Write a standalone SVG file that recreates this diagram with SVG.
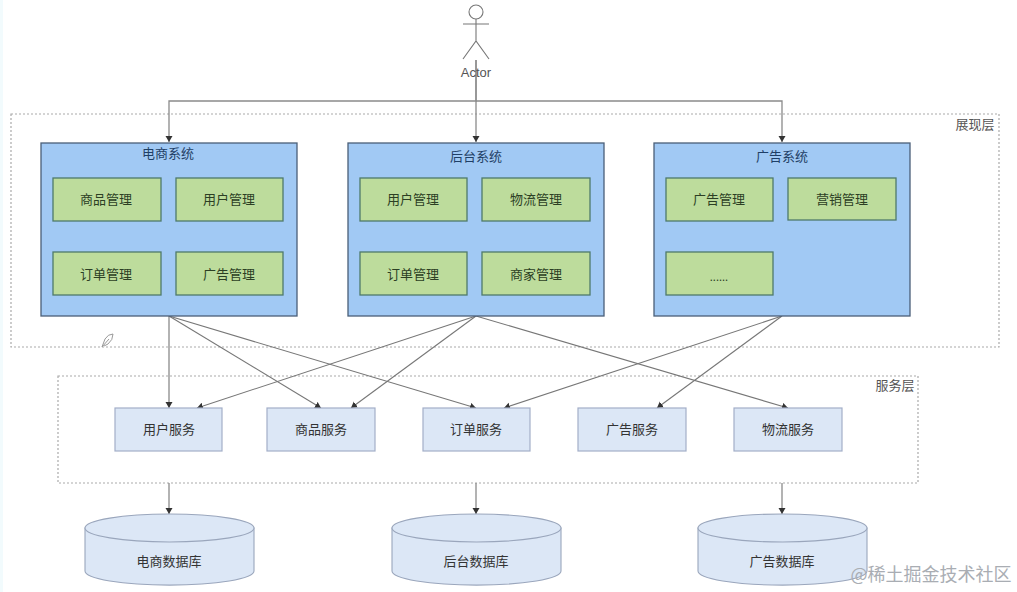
<svg xmlns="http://www.w3.org/2000/svg" width="1017" height="592" viewBox="0 0 1017 592">
<style>
text{font-family:"Noto Sans CJK SC","Liberation Sans",sans-serif;text-anchor:middle;font-size:13px;fill:#333}
.sys{fill:#a1c9f4;stroke:#4a5f78;stroke-width:1.3}
.sys-t{fill:#1f3f66}
.mod{fill:#bddc9c;stroke:#4f7a6a;stroke-width:1.3}
.mod-t{fill:#2c3f24}
.svc{fill:#dce7f6;stroke:#a3afc8;stroke-width:1.2}
.db{fill:#dce7f6;stroke:#9aa6bc;stroke-width:1.1}
.zone{fill:none;stroke:#aaa;stroke-width:1.2;stroke-dasharray:2 2}
.c{fill:none;stroke:#8a8a8a;stroke-width:1.3;marker-end:url(#a)}
.c2{fill:none;stroke:#777;stroke-width:1.1;marker-end:url(#a)}
.actor{fill:none;stroke:#777;stroke-width:1.1}
</style>
<defs><marker id="a" markerUnits="userSpaceOnUse" markerWidth="8" markerHeight="8" refX="6" refY="3.5" orient="auto"><path d="M0 0L6 3.5L0 7Z" fill="#333"/></marker></defs>
<rect width="1017" height="592" fill="#fff"/>
<rect x="0" y="0" width="3" height="592" fill="#f2fbfd"/>
<g id="zone-presentation"><rect class="zone" x="11" y="114" width="988" height="233"/><text x="975" y="129" style="fill:#555">展现层</text></g>
<g id="zone-service"><rect class="zone" x="58" y="376" width="860" height="107"/><text x="895" y="390" style="fill:#555">服务层</text></g>
<path id="pencil" d="M102 347L105 339Q108 334 113 334Q113 340 108 344L104 346M102 347L109 339" fill="none" stroke="#999" stroke-width="1"/>
<g id="connectors">
<path class="c" d="M476 60V101H169V142"/>
<path class="c" d="M476 60V142"/>
<path class="c" d="M476 101H782V142"/>
<path class="c" d="M169 316V408"/>
<path class="c2" d="M169 316L321 408"/>
<path class="c2" d="M169 316L476 408"/>
<path class="c2" d="M476 316L197 408"/>
<path class="c2" d="M476 316L351 408"/>
<path class="c2" d="M476 316L788 408"/>
<path class="c2" d="M782 316L504 408"/>
<path class="c2" d="M782 316L657 408"/>
<path class="c" d="M169 483V514"/>
<path class="c" d="M476 483V514"/>
<path class="c" d="M782 483V514"/>
</g>
<g id="actor"><circle class="actor" cx="476" cy="12" r="7"/><path class="actor" d="M476 19V41M463 24H489M463 59L476 41L489 59"/><text x="476" y="77" style="fill:#555;font-family:'Liberation Sans',sans-serif">Actor</text></g>
<g id="sys-shop"><rect class="sys" x="41" y="143" width="256" height="173"/><text class="sys-t" x="168" y="158">电商系统</text></g>
<g id="mod-1"><rect class="mod" x="53" y="178" width="108" height="43"/><text class="mod-t" x="106" y="204">商品管理</text></g>
<g id="mod-2"><rect class="mod" x="176" y="178" width="107" height="43"/><text class="mod-t" x="229" y="204">用户管理</text></g>
<g id="mod-3"><rect class="mod" x="53" y="252" width="108" height="43"/><text class="mod-t" x="106" y="279">订单管理</text></g>
<g id="mod-4"><rect class="mod" x="176" y="252" width="107" height="43"/><text class="mod-t" x="229" y="279">广告管理</text></g>
<g id="sys-admin"><rect class="sys" x="348" y="143" width="256" height="173"/><text class="sys-t" x="476" y="161">后台系统</text></g>
<g id="mod-5"><rect class="mod" x="360" y="178" width="107" height="43"/><text class="mod-t" x="413" y="204">用户管理</text></g>
<g id="mod-6"><rect class="mod" x="482" y="178" width="108" height="43"/><text class="mod-t" x="536" y="204">物流管理</text></g>
<g id="mod-7"><rect class="mod" x="360" y="252" width="107" height="43"/><text class="mod-t" x="413" y="279">订单管理</text></g>
<g id="mod-8"><rect class="mod" x="482" y="252" width="108" height="43"/><text class="mod-t" x="536" y="279">商家管理</text></g>
<g id="sys-ads"><rect class="sys" x="654" y="143" width="256" height="173"/><text class="sys-t" x="782" y="161">广告系统</text></g>
<g id="mod-9"><rect class="mod" x="666" y="178" width="107" height="43"/><text class="mod-t" x="719" y="204">广告管理</text></g>
<g id="mod-10"><rect class="mod" x="788" y="178" width="108" height="42"/><text class="mod-t" x="842" y="204">营销管理</text></g>
<g id="mod-11"><rect class="mod" x="666" y="252" width="107" height="43"/><text class="mod-t" x="719" y="281" style="font-size:11px">......</text></g>
<g id="svc-1"><rect class="svc" x="115" y="408" width="107" height="43"/><text x="169" y="434">用户服务</text></g>
<g id="svc-2"><rect class="svc" x="267" y="408" width="108" height="43"/><text x="321" y="434">商品服务</text></g>
<g id="svc-3"><rect class="svc" x="423" y="408" width="107" height="43"/><text x="476" y="434">订单服务</text></g>
<g id="svc-4"><rect class="svc" x="578" y="408" width="108" height="43"/><text x="632" y="434">广告服务</text></g>
<g id="svc-5"><rect class="svc" x="734" y="408" width="108" height="43"/><text x="788" y="434">物流服务</text></g>
<g id="db-1"><path class="db" d="M85 528V571A84 14 0 0 0 254 571V528Z"/><ellipse class="db" cx="169.500" cy="528" rx="84.500" ry="14"/><text x="169" y="566">电商数据库</text></g>
<g id="db-2"><path class="db" d="M392 528V571A84 14 0 0 0 561 571V528Z"/><ellipse class="db" cx="476.500" cy="528" rx="84.500" ry="14"/><text x="476" y="566">后台数据库</text></g>
<g id="db-3"><path class="db" d="M698 528V571A84 14 0 0 0 867 571V528Z"/><ellipse class="db" cx="782.500" cy="528" rx="84.500" ry="14"/><text x="782" y="566">广告数据库</text></g>
<text x="931" y="581" style="font-size:18px;fill:#a9adb3">@稀土掘金技术社区</text>
</svg>
